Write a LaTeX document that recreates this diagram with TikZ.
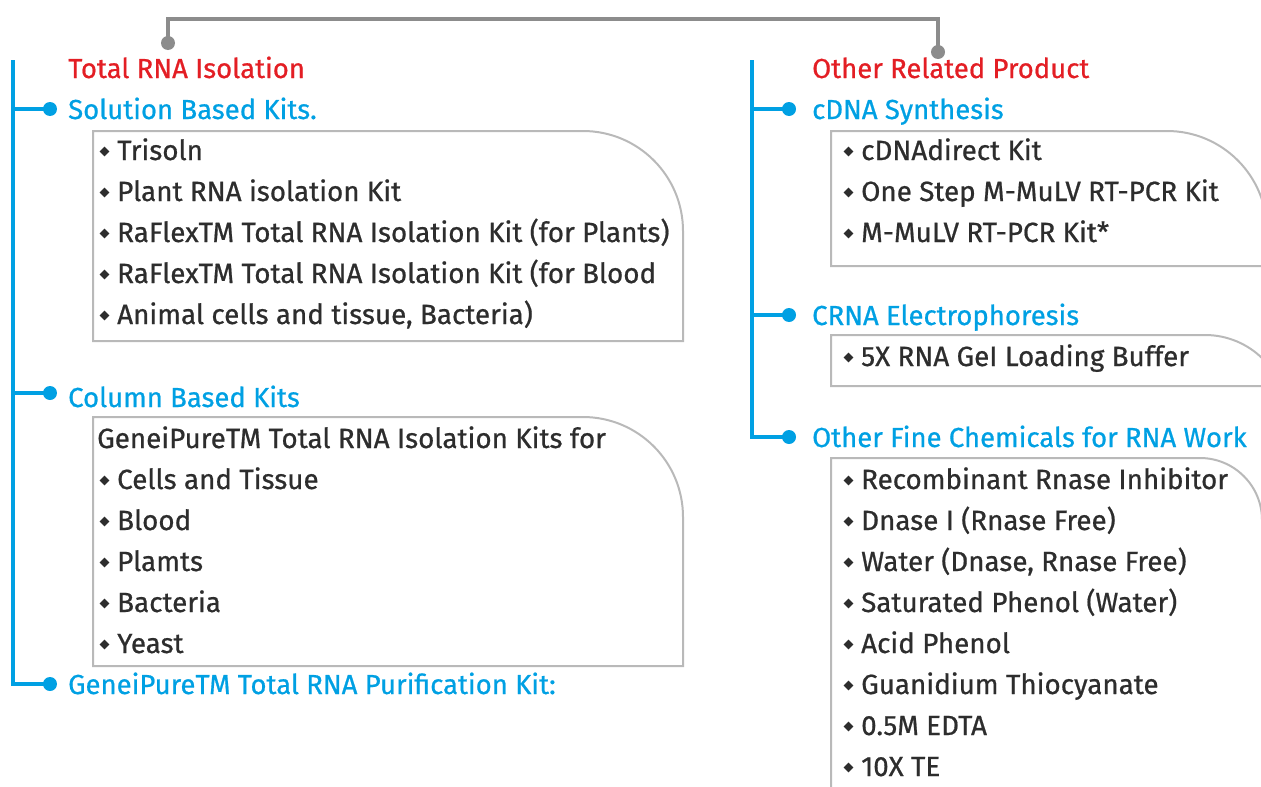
\documentclass[tikz,border=0pt]{standalone}
\usepackage{fontspec}
\setmainfont{Fira Sans}[FakeBold=0.7]
\usetikzlibrary{shapes.geometric}
\definecolor{cblue}{RGB}{0,160,227}
\definecolor{cred}{RGB}{227,30,36}
\definecolor{cgray}{RGB}{140,140,140}
\definecolor{cbox}{RGB}{185,185,185}
\definecolor{ctext}{RGB}{45,45,45}
\begin{document}
\begin{tikzpicture}[x=1pt,y=-1pt,
  txt/.style={anchor=base west,inner sep=0pt,font=\fontsize{27.8}{30}\selectfont},
  title/.style={txt,text=cred,font=\fontsize{27.5}{30}\selectfont},
  head/.style={txt,text=cblue,font=\fontsize{27.5}{30}\selectfont},
  item/.style={txt,text=ctext},
  bul/.style={diamond,fill=ctext,inner sep=0pt,minimum size=10pt},
  dotb/.style={circle,fill=cblue,inner sep=0pt,minimum size=14pt},
  dotg/.style={circle,fill=cgray,inner sep=0pt,minimum size=14pt},
  spine/.style={draw=cblue,line width=4pt},
  link/.style={draw=cgray,line width=3.5pt},
  boxline/.style={draw=cbox,line width=2pt}]
\useasboundingbox (0,0) rectangle (1261,787);
\clip (0,0) rectangle (1261,787);

% top gray connector
\node[dotg] (gl) at (168,43) {};
\node[dotg] (gr) at (938,52) {};
\draw[link] (gl.center) |- (553,19) -| (gr.center);

% ---------------- left column
\node[title] (t1) at (68,78) {Total RNA Isolation};
\node[head] (h1) at (68,119) {Solution Based Kits.};
\node[head] (h2) at (68,407) {Column Based Kits};
\node[head] (h3) at (68,694) {GeneiPureTM Total RNA Purification Kit:};
\node[dotb] (d1) at (50,109) {};
\node[dotb] (d2) at (50,393) {};
\node[dotb] (d3) at (50,684) {};
\coordinate (ltop) at (13,60);
\draw[spine] (ltop) |- (d3.center);
\draw[spine] (13,109) -- (d1.center);
\draw[spine] (13,393) -- (d2.center);

% box 1
\draw[boxline] (93,341) -- (93,131) -- (583,131) .. controls (638.2,131) and (683,175.8) .. (683,231) -- (683,341) -- cycle;
\foreach \y/\t [count=\i] in {160/Trisoln, 201/Plant RNA isolation Kit, 242/RaFlexTM Total RNA Isolation Kit (for Plants), 283/RaFlexTM Total RNA Isolation Kit (for Blood, 324/{Animal cells and tissue, Bacteria)}}{
  \node[bul] (ba\i) at (104.5,\y-8.5) {};
  \node[item] (ia\i) at (117,\y) {\t};
}

% box 2
\draw[boxline] (93,666) -- (93,417) -- (583,417) .. controls (638.2,417) and (683,461.8) .. (683,517) -- (683,666) -- cycle;
\node[item] (ib0) at (97,448) {GeneiPureTM Total RNA Isolation Kits for};
\foreach \y/\t [count=\i] in {489/Cells and Tissue, 530/Blood, 571/Plamts, 612/Bacteria, 653/Yeast}{
  \node[bul] (bb\i) at (104.5,\y-8.5) {};
  \node[item] (ib\i) at (117,\y) {\t};
}

% ---------------- right column
\node[title] (t2) at (812,78) {Other Related Product};
\node[head] (h4) at (812,119) {cDNA Synthesis};
\node[head] (h5) at (812,325) {CRNA Electrophoresis};
\node[head] (h6) at (812,447) {Other Fine Chemicals for RNA Work};
\node[dotb] (d4) at (789,109) {};
\node[dotb] (d5) at (789,315) {};
\node[dotb] (d6) at (789,437) {};
\coordinate (rtop) at (752,60);
\draw[spine] (rtop) |- (d6.center);
\draw[spine] (752,109) -- (d4.center);
\draw[spine] (752,315) -- (d5.center);

% box 3
\draw[boxline] (1275,266) -- (831,266) -- (831,131) -- (1167,131) .. controls (1222.2,131) and (1267,175.8) .. (1267,231) -- (1267,266);
\foreach \y/\t [count=\i] in {160/cDNAdirect Kit, 201/One Step M-MuLV RT-PCR Kit, 242/M-MuLV RT-PCR Kit*}{
  \node[bul] (bc\i) at (848.5,\y-8.5) {};
  \node[item] (ic\i) at (861,\y) {\t};
}

% box 4
\draw[boxline] (1275,386) -- (831,386) -- (831,335) -- (1205,335) .. controls (1250.3,335) and (1287,371.7) .. (1287,417);
\node[bul] (bd1) at (848.5,357.5) {};
\node[item] (id1) at (861,366) {5X RNA GeI Loading Buffer};

% box 5
\draw[boxline] (831,800) -- (831,458) -- (1200,458) .. controls (1234.2,458) and (1262,485.8) .. (1262,520) -- (1262,800);
\foreach \y/\t [count=\i] in {489/Recombinant Rnase Inhibitor, 530/Dnase I (Rnase Free), 571/{Water (Dnase, Rnase Free)}, 612/Saturated Phenol (Water), 653/Acid Phenol, 694/Guanidium Thiocyanate, 735/0.5M EDTA, 776/10X TE}{
  \node[bul] (be\i) at (848.5,\y-8.5) {};
  \node[item] (ie\i) at (861,\y) {\t};
}
\end{tikzpicture}
\end{document}
